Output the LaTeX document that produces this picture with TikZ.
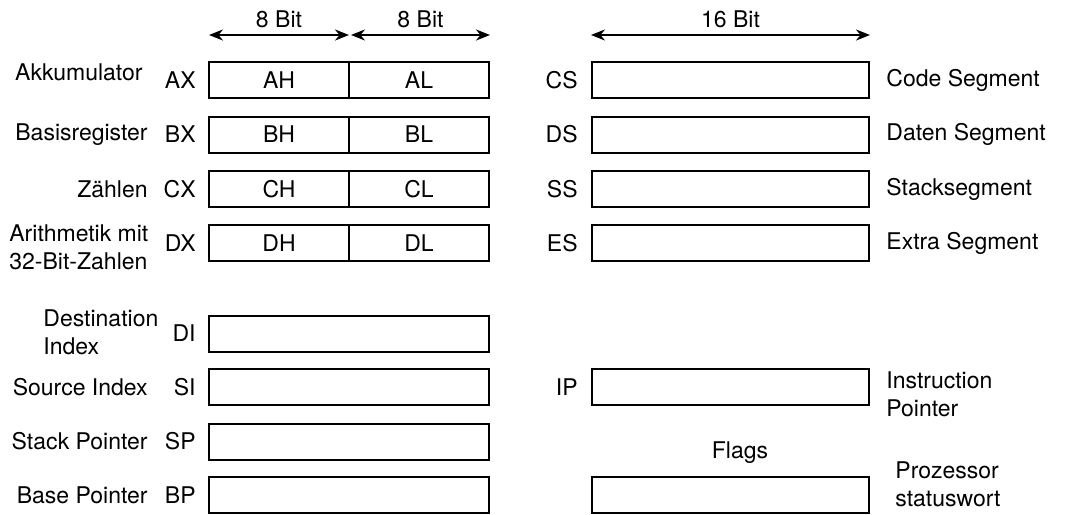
\documentclass[tikz,border=0pt]{standalone}
\usepackage{fontspec}
\setmainfont{TeX Gyre Heros}
\usetikzlibrary{arrows.meta,positioning}
\tikzset{
  reg/.style={draw, line width=1pt, minimum height=18pt, inner sep=0pt},
  half/.style={reg, minimum width=70pt},
  full/.style={reg, minimum width=140pt},
  seg/.style={reg, minimum width=138.5pt},
  dim/.style={line width=1pt, {Stealth[length=7pt,width=5.5pt]}-{Stealth[length=7pt,width=5.5pt]}},
  txt/.style={inner sep=0pt, align=left}
}
\begin{document}
\begin{tikzpicture}[x=0.5pt,y=-0.5pt,font=\fontsize{11.5}{14}\selectfont]
\useasboundingbox (0,0) rectangle (1076,514);
% 16 bit registers, split in high and low byte
\node[half] (AH) at (279,80) {AH};
\node[half] (AL) at (419,80) {AL};
\node[half] (BH) at (279,134.5) {BH};
\node[half] (BL) at (419,134.5) {BL};
\node[half] (CH) at (279,189) {CH};
\node[half] (CL) at (419,189) {CL};
\node[half] (DH) at (279,243) {DH};
\node[half] (DL) at (419,243) {DL};
\node[txt, left=6pt of AH] (AX) {AX};
\node[txt, left=6pt of BH] (BX) {BX};
\node[txt, left=6pt of CH] (CX) {CX};
\node[txt, left=6pt of DH] (DX) {DX};
\node[txt, anchor=east] (akku) at (143,72) {Akkumulator};
\node[txt, anchor=east] (basis) at (148,134.5) {Basisregister};
\node[txt, anchor=east] (zaehl) at (148,189) {Zählen};
\node[txt, anchor=west] (arith) at (9,247) {Arithmetik mit\\32-Bit-Zahlen};
% index and pointer registers
\node[full] (DI) at (349,333.5) {};
\node[full] (SI) at (349,387) {};
\node[full] (SP) at (349,441.5) {};
\node[full] (BP) at (349,495) {};
\node[txt, left=6pt of DI] (DIl) {DI};
\node[txt, left=6pt of SI] (SIl) {SI};
\node[txt, left=6pt of SP] (SPl) {SP};
\node[txt, left=6pt of BP] (BPl) {BP};
\node[txt, anchor=west] (dest) at (43,332) {Destination\\Index};
\node[txt, anchor=east] (src) at (148,387) {Source Index};
\node[txt, anchor=east] (stack) at (148,441.5) {Stack Pointer};
\node[txt, anchor=east] (base) at (148,495) {Base Pointer};
% segment registers
\node[seg] (CS) at (730.5,80) {};
\node[seg] (DS) at (730.5,134.5) {};
\node[seg] (SS) at (730.5,189) {};
\node[seg] (ES) at (730.5,243) {};
\node[seg] (IP) at (730.5,387) {};
\node[seg] (FL) at (730.5,495) {};
\node[txt, left=6.5pt of CS] (CSl) {CS};
\node[txt, left=6.5pt of DS] (DSl) {DS};
\node[txt, left=6.5pt of SS] (SSl) {SS};
\node[txt, left=6.5pt of ES] (ESl) {ES};
\node[txt, left=6.5pt of IP] (IPl) {IP};
\node[txt, right=8pt of CS] (code) {Code Segment};
\node[txt, right=8pt of DS] (daten) {Daten Segment};
\node[txt, right=8pt of SS] (stseg) {Stacksegment};
\node[txt, right=8pt of ES] (extra) {Extra Segment};
\node[txt, anchor=west] (instr) at (886,394) {Instruction\\Pointer};
\node[txt] (flags) at (740,453) {Flags};
\node[txt, anchor=west] (proz) at (895,484) {Prozessor\\statuswort};
% widths
\coordinate (w1) at ([yshift=13pt]AH.north west);
\coordinate (w2) at ([yshift=13pt]AH.north east);
\coordinate (w3) at ([yshift=13pt]AL.north east);
\coordinate (w4) at ([yshift=13pt]CS.north west);
\coordinate (w5) at ([yshift=13pt]CS.north east);
\draw[dim] ([xshift=0.5pt]w1) -- node[above=3pt, inner sep=0pt] {8 Bit} ([xshift=-0.5pt]w2);
\draw[dim] ([xshift=0.5pt]w2) -- node[above=3pt, inner sep=0pt] {8 Bit} (w3);
\draw[dim] (w4) -- node[above=3pt, inner sep=0pt] {16 Bit} (w5);
\end{tikzpicture}
\end{document}
